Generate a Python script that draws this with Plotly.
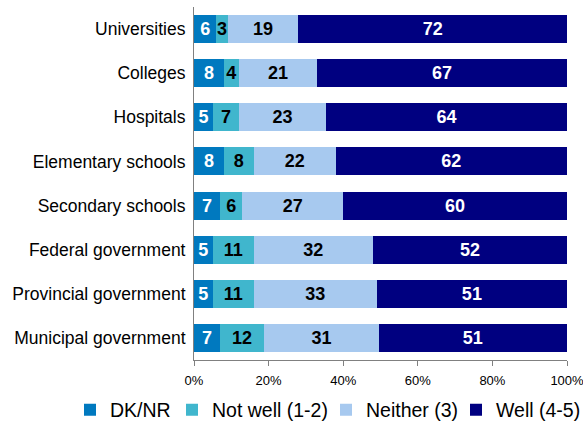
import plotly.graph_objects as go

categories = [
    "Universities",
    "Colleges",
    "Hospitals",
    "Elementary schools",
    "Secondary schools",
    "Federal government",
    "Provincial government",
    "Municipal government",
]

dk_nr = [6, 8, 5, 8, 7, 5, 5, 7]
not_well = [3, 4, 7, 8, 6, 11, 11, 12]
neither = [19, 21, 23, 22, 27, 32, 33, 31]
well = [72, 67, 64, 62, 60, 52, 51, 51]

series = [
    ("DK/NR", dk_nr, "#0079BF", "white"),
    ("Not well (1-2)", not_well, "#40B6CD", "black"),
    ("Neither (3)", neither, "#A7C9EF", "black"),
    ("Well (4-5)", well, "#000080", "white"),
]

x_ticks = [0, 20, 40, 60, 80, 100]

font = "Liberation Sans, Arial, sans-serif"

# one legend box per series so each key can sit at its own spot in the bottom row
legend_ids = ["legend", "legend2", "legend3", "legend4"]
legend_x = [70, 172, 326, 456]

fig = go.Figure()
for (name, vals, color, txtcolor), lg in zip(series, legend_ids):
    fig.add_trace(
        go.Bar(
            name=name,
            y=categories,
            x=vals,
            orientation="h",
            marker=dict(color=color, line=dict(width=0)),
            text=[str(v) for v in vals],
            textposition="inside",
            insidetextanchor="middle",
            textangle=0,
            constraintext="none",
            textfont=dict(family=font, size=18, color=txtcolor, weight="bold"),
            legend=lg,
        )
    )

legend_style = dict(
    orientation="h",
    xref="container",
    yref="container",
    xanchor="left",
    yanchor="middle",
    y=19 / 429,
    font=dict(family=font, size=19.5, color="black"),
    itemwidth=30,
    bgcolor="rgba(0,0,0,0)",
    borderwidth=0,
)

layout_legends = {
    lg: dict(legend_style, x=px / 583) for lg, px in zip(legend_ids, legend_x)
}

fig.update_layout(
    width=583,
    height=429,
    barmode="stack",
    barnorm="percent",
    bargap=0.365,
    plot_bgcolor="white",
    paper_bgcolor="white",
    margin=dict(l=194, r=16, t=7, b=69, autoexpand=False),
    uniformtext=dict(minsize=18, mode="show"),
    showlegend=True,
    **layout_legends,
    xaxis=dict(
        range=[0, 100],
        tickmode="array",
        tickvals=x_ticks,
        ticktext=[f"{t}%" for t in x_ticks],
        showgrid=False,
        zeroline=False,
        showline=True,
        linecolor="#808080",
        linewidth=1,
        ticks="outside",
        ticklen=5,
        tickcolor="#808080",
        ticklabelstandoff=3,
        ticklabeloverflow="allow",
        tickfont=dict(family=font, size=13, color="black"),
        fixedrange=True,
    ),
    yaxis=dict(
        categoryorder="array",
        categoryarray=categories,
        autorange="reversed",
        showgrid=False,
        zeroline=False,
        showline=True,
        linecolor="#808080",
        linewidth=1,
        ticks="",
        ticklabelstandoff=4,
        tickfont=dict(family=font, size=17.5, color="black"),
        fixedrange=True,
    ),
)

fig.write_html("out.html")
